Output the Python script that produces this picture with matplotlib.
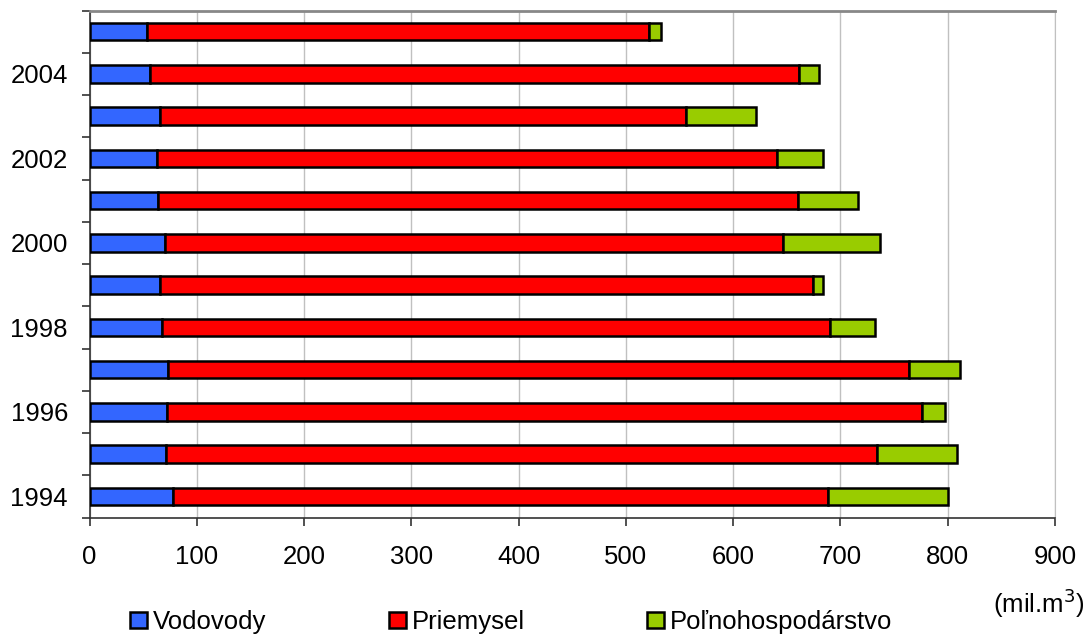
import numpy as np
import matplotlib.pyplot as plt
import matplotlib.patches as mpatches

plt.rcParams['font.family'] = ['Liberation Sans', 'DejaVu Sans']

# data (mil. m3), years 1994 -> 2005
years = [1994, 1995, 1996, 1997, 1998, 1999, 2000, 2001, 2002, 2003, 2004, 2005]
vodovody = [78, 71, 72, 73, 68, 66, 70, 64, 63, 66, 56, 54]
priemysel = [610, 663, 704, 691, 622, 608, 576, 596, 578, 490, 605, 468]
polnohosp = [112, 75, 21, 47, 42, 10, 91, 56, 43, 65, 19, 11]
labels = ['Vodovody', 'Priemysel', 'Poľnohospodárstvo']
colors = ['#3366FF', '#FF0000', '#99CC00']

fs = 18.5

fig = plt.figure(figsize=(10.88, 6.35), dpi=100)
ax = fig.add_axes([89.5/1088, 1-517.5/635, (1055-89.5)/1088, (517.5-10.5)/635])

y = np.arange(len(years))
left = np.zeros(len(years))
for vals, c in zip([vodovody, priemysel, polnohosp], colors):
	ax.barh(y, vals, left=left, height=0.41, color=c, edgecolor='black', linewidth=1.8, zorder=3)
	left = left + np.array(vals)

ax.set_xlim(0, 900)
ax.set_ylim(-0.5, len(years)-0.5)
ax.set_xticks(np.arange(0, 901, 100))
ax.xaxis.grid(True, color='#C0C0C0', linewidth=1, zorder=0)

# year labels every second year, tick marks between categories
ax.set_yticks(y[::2])
ax.set_yticklabels([str(v) for v in years[::2]])
ax.set_yticks(np.arange(-0.5, len(years), 1), minor=True)
ax.tick_params(axis='y', which='major', length=0, pad=15.5, labelsize=fs)
ax.tick_params(axis='y', which='minor', length=6, width=1.2, color='#333333')
ax.tick_params(axis='x', length=6, width=1.2, color='#333333', pad=14, labelsize=fs)

ax.spines['top'].set_color('#888888')
ax.spines['top'].set_linewidth(2)
ax.spines['right'].set_color('#C0C0C0')
ax.spines['left'].set_color('#333333')
ax.spines['left'].set_linewidth(1.2)
ax.spines['bottom'].set_color('#333333')
ax.spines['bottom'].set_linewidth(1.2)

fig.text(1039/1088, 1-603/635, '(mil.m$^3$)', ha='center', va='center', fontsize=fs)

# legend entries spaced like the original
xpos = [130, 389, 647]
for lab, c, xp in zip(labels, colors, xpos):
	h = mpatches.Patch(facecolor=c, edgecolor='black', linewidth=1.8, label=lab)
	fig.legend(handles=[h], loc='center left', bbox_to_anchor=(xp/1088, 1-622/635),
		frameon=False, fontsize=fs, handlelength=0.65, handleheight=0.62,
		handletextpad=0.25, borderpad=0, borderaxespad=0)

plt.savefig('out.png', dpi=100)
plt.close()
